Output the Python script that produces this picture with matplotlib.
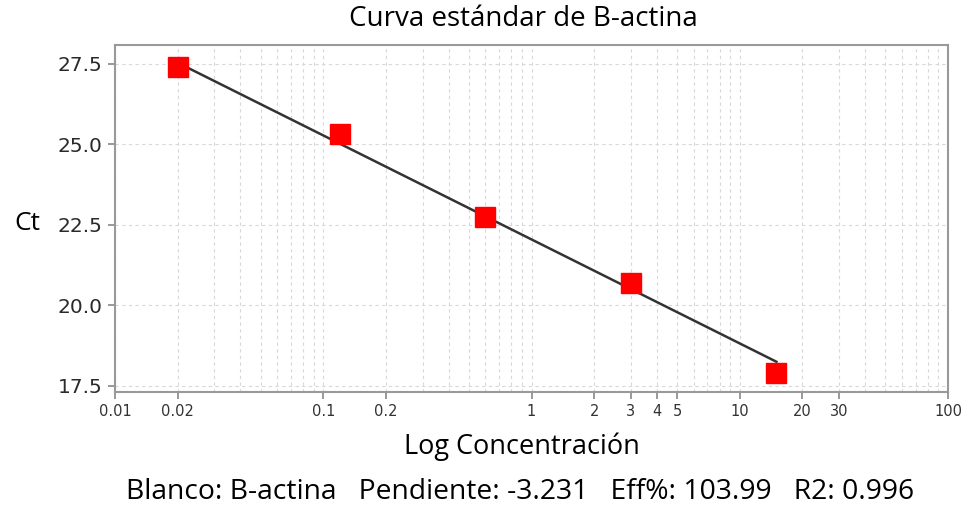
import numpy as np
import matplotlib.pyplot as plt
from matplotlib.ticker import FixedLocator, LogLocator, NullFormatter

# datos
conc = [0.02, 0.12, 0.6, 3, 15]
ct = [27.4, 25.33, 22.75, 20.7, 17.9]
pendiente = -3.231
intercepto = 22.05
xticks = [0.01, 0.02, 0.1, 0.2, 1, 2, 3, 4, 5, 10, 20, 30, 100]
xticklabels = ["0.01", "0.02", "0.1", "0.2", "1", "2", "3", "4", "5", "10", "20", "30", "100"]
yticks = [17.5, 20.0, 22.5, 25.0, 27.5]

fig = plt.figure(figsize=(9.71, 5.07), dpi=100)
ax = fig.add_axes([115 / 971, 1 - 392 / 507, 833 / 971, 347 / 507])

# recta de ajuste
xl = np.array([conc[0], conc[-1]])
ax.plot(xl, intercepto + pendiente * np.log10(xl), color="#333333", lw=1.8, zorder=3)
ax.plot(conc, ct, "s", color="red", markersize=14.5, zorder=4)

ax.set_xscale("log")
ax.set_xlim(0.01, 100)
ax.set_ylim(17.31, 28.09)

ax.xaxis.set_major_locator(FixedLocator(xticks))
ax.set_xticklabels(xticklabels, family="DejaVu Sans", fontsize=10.5, color="#333333")
ax.xaxis.set_minor_locator(LogLocator(base=10, subs=np.arange(2, 10)))
ax.xaxis.set_minor_formatter(NullFormatter())
ax.set_yticks(yticks)
ax.set_yticklabels([f"{v:.1f}" for v in yticks], family="DejaVu Sans", fontsize=14.5, color="#2a2a2a")

grid_kw = dict(color="#d8d8d8", linestyle=(0, (3, 3)), linewidth=0.8)
ax.grid(True, which="major", axis="y", **grid_kw)
ax.grid(True, which="both", axis="x", **grid_kw)
ax.set_axisbelow(True)

for s in ax.spines.values():
    s.set_color("#999999")
    s.set_linewidth(1.5)
ax.tick_params(axis="both", which="major", length=5, color="#888888", width=1.2, pad=4)
ax.tick_params(axis="x", which="minor", length=0)

fig.text(0.5 * (348 + 698) / 971, 1 - 19 / 507, "Curva estándar de B-actina",
         ha="center", va="center", family="Open Sans", fontsize=20)
fig.text(27 / 971, 1 - 224 / 507, "Ct", ha="center", va="center", family="Open Sans", fontsize=19)
fig.text(522 / 971, 1 - 447 / 507, "Log Concentración", ha="center", va="center",
         family="Open Sans", fontsize=19.5)
fig.text(520 / 971, 1 - 492 / 507,
         "Blanco: B-actina   Pendiente: -3.231   Eff%: 103.99   R2: 0.996",
         ha="center", va="center", family="Open Sans", fontsize=20.3)

fig.savefig("out.png", dpi=100)
